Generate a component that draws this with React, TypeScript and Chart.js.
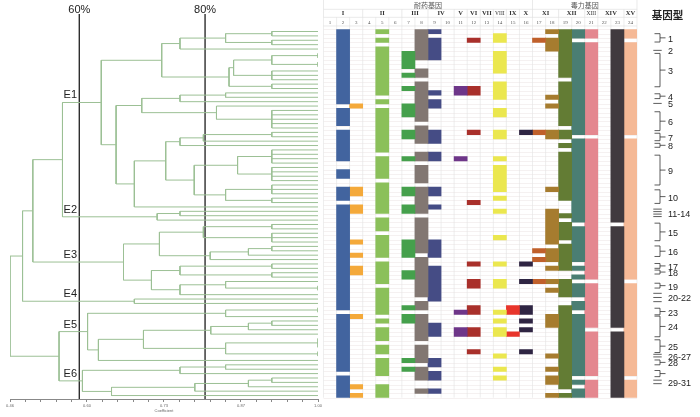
import React, { useEffect, useRef } from 'react';
import { Chart, registerables } from 'chart.js';
Chart.register(...registerables);

// ---------------- dendrogram data (similarity at each merge, leaves = row index) ----------------
type TreeNode = number | TreeNode[];
const LEAF_SIMILARITY = 1.0;
const ROW_COUNT = 84;

const clusterE1: TreeNode = [0.62,
  [0.726,
    [0.758, [0.838, [0.919, 0, 1], [0.919, 2, 3]], 4],
    [0.844, [0.852, [0.919, [1, 5, 6], [1, 7, 8]], [0.919, 9, 10, 11]], [0.919, 12, 13]],
  ],
  [0.646,
    [0.691, [0.758, [0.838, 14, 15], 16], [0.822, 17, [0.919, 18, 19, 20, 21, 22]]],
    [0.678,
      [0.733,
        [0.758, [0.799, [0.919, 23, 24], 25], 26],
        [0.783, [0.859, [0.919, 27, 28, 29, 30], [0.919, 31, 32, 33, 34]], [0.838, [0.919, 35, 36, 37], [0.919, 38, 39]]],
      ],
      40,
    ],
  ],
];
const clusterE2: TreeNode = [0.718, [0.758, 41, 42], 43];
const clusterE3: TreeNode = [0.659,
  [0.722, [0.799, [0.919, 44, 45], [0.919, 46, 47, 48]], [0.811, [0.878, [0.919, 49, 50], 51], 52]],
  [0.708, [0.758, [0.919, 53, 54], [0.919, 55, 56]], [0.758, [0.838, 57, [1, 58, 59]], 60]],
];
const clusterE4: TreeNode = [0.678, 61, 62];
const clusterE5: TreeNode = [0.596,
  [0.838, [1, 63, 64], 65],
  [0.615, [0.694, [0.812, [0.878, [0.919, 66, 67], 68], 69], [0.838, [1, 70, 71, 72], [1, 73, 74]]], 75],
];
const clusterE6: TreeNode = [0.587, [0.758, [0.838, 76, 77], 78], [0.638, [0.784, [0.878, [0.919, 79, 80], 81], 82], 83]];
const dendrogram: TreeNode = [0.46, [0.482, [0.5, [0.552, clusterE1, clusterE2], clusterE3], clusterE4], [0.546, clusterE5, clusterE6]];

const clusterLabels = ['E1', 'E2', 'E3', 'E4', 'E5', 'E6'];
const clusterNodes = [clusterE1, clusterE2, clusterE3, clusterE4, clusterE5, clusterE6];

const cutoffValues = [0.5815, 0.802];
const cutoffLabels = ['60%', '80%'];

const axisMajorTicks = [0.46, 0.595, 0.73, 0.865, 1.0];
const axisMajorLabels = ['0.46', '0.60', '0.73', '0.87', '1.00'];
const axisTitle = 'Coefficient';

// ---------------- gene matrix data ----------------
const columnNumbers = ['1', '2', '3', '4', '5', '6', '7', '8', '9', '10', '11', '12', '13', '14', '15', '16', '17', '18', '19', '20', '21', '22', '23', '24'];
const groupNames = ['I', 'II', 'III', 'IV', 'V', 'VI', 'VII', 'VIII', 'IX', 'X', 'XI', 'XII', 'XIII', 'XIV', 'XV'];
const groupFirstCol = [1, 4, 7, 9, 11, 12, 13, 14, 15, 16, 17, 19, 21, 22, 24];
const groupLastCol = [3, 6, 8, 10, 11, 12, 13, 14, 15, 16, 18, 20, 21, 23, 24];
const categoryNames = ['耐药基因', '毒力基因'];
const categoryFirstCol = [1, 17];
const categoryLastCol = [16, 24];

const runsC1: number[][] = [];
const runsC2 = [[0, 16], [18, 21], [23, 29], [32, 33], [36, 38], [40, 63], [65, 77], [79, 83]];
const runsC3 = [[17, 17], [36, 37], [40, 41], [48, 48], [51, 51], [54, 55], [65, 65], [81, 81], [83, 83]];
const runsC4: number[][] = [];
const runsC5 = [[0, 0], [2, 2], [4, 14], [16, 16], [18, 27], [29, 33], [35, 41], [43, 45], [47, 51], [53, 57], [59, 64], [66, 66], [68, 70], [72, 73], [75, 78], [81, 83]];
const runsC6: number[][] = [];
const runsC7 = [[5, 8], [10, 10], [13, 13], [17, 19], [23, 24], [29, 29], [36, 37], [40, 41], [48, 51], [55, 56], [63, 63], [65, 66], [75, 75], [77, 77]];
const runsC8 = [[0, 6], [9, 10], [12, 20], [22, 25], [28, 29], [31, 34], [36, 41], [43, 50], [52, 60], [62, 63], [65, 70], [72, 75], [77, 79], [82, 82]];
const runsC9 = [[0, 0], [2, 6], [14, 14], [16, 17], [23, 25], [28, 29], [36, 37], [40, 40], [48, 51], [54, 61], [67, 69], [75, 76], [78, 79], [82, 82]];
const runsC10: number[][] = [];
const runsC11 = [[13, 14], [29, 29], [64, 64], [68, 69]];
const runsC12 = [[2, 2], [13, 14], [23, 23], [39, 39], [53, 53], [57, 58], [63, 64], [68, 69], [73, 73]];
const runsC13: number[][] = [];
const runsC14 = [[1, 2], [5, 9], [12, 15], [18, 19], [23, 24], [29, 29], [31, 36], [38, 38], [41, 41], [47, 47], [53, 53], [57, 58], [64, 64], [66, 66], [68, 69], [74, 74], [77, 77], [79, 79]];
const runsC15 = [[63, 64], [69, 69]];
const runsC16 = [[23, 23], [53, 53], [57, 57], [63, 64], [66, 66], [68, 68], [73, 73]];
const runsC17 = [[2, 2], [23, 23], [50, 50], [52, 52], [57, 57]];
const runsC18 = [[0, 0], [2, 4], [15, 15], [17, 17], [23, 24], [36, 36], [41, 48], [50, 52], [54, 54], [57, 57], [59, 59], [65, 67], [74, 74], [77, 77], [79, 80], [83, 83]];
const runsC19 = [[0, 10], [12, 21], [23, 24], [26, 26], [28, 38], [42, 42], [44, 47], [49, 54], [57, 60], [63, 81], [83, 83]];
const runsC20 = [[0, 1], [3, 23], [25, 43], [45, 52], [54, 54], [56, 56], [58, 60], [62, 63], [65, 78], [80, 80], [82, 83]];
const runsC21 = [[0, 1], [3, 23], [25, 56], [58, 67], [69, 78], [80, 83]];
const runsC22: number[][] = [];
const runsC23 = [[0, 43], [45, 67], [69, 83]];
const runsC24 = [[0, 1], [3, 23], [25, 56], [58, 78], [80, 83]];
const geneRuns = [runsC1, runsC2, runsC3, runsC4, runsC5, runsC6, runsC7, runsC8, runsC9, runsC10, runsC11, runsC12,
  runsC13, runsC14, runsC15, runsC16, runsC17, runsC18, runsC19, runsC20, runsC21, runsC22, runsC23, runsC24];

const geneColors = ['#42649f', '#42649f', '#f4a93a', '#8bc05a', '#8bc05a', '#8bc05a', '#45a04c', '#827772', '#454c85', '#454c85',
  '#6e3689', '#a9302b', '#a9302b', '#ebe74f', '#e8352b', '#2f2543', '#c0602b', '#a67c2f', '#637c34', '#4a7e73',
  '#e4878f', '#403a3f', '#403a3f', '#f5b996'];

// ---------------- genotype annotation data (row ranges) ----------------
const genotypeTitle = '基因型';
const genotypeLabels = ['1', '2', '3', '4', '5', '6', '7', '8', '9', '10', '11-14', '15', '16', '17', '18', '19', '20-22', '23', '24', '25', '26-27', '28', '', '29-31'];
const genotypeFrom = [0.5, 4.3, 5, 14.2, 16.4, 18.3, 23.2, 25.5, 28.2, 36.1, 40.5, 43.7, 48.9, 52.9, 54.4, 57.4, 59.7, 63.1, 64.9, 70.3, 73.6, 74.9, 77.3, 79.5];
const genotypeTo = [2.4, 4.3, 12.6, 15.3, 16.4, 22.6, 24.9, 26.4, 35, 39.2, 42.2, 47.7, 51.3, 54, 55.3, 58.5, 61.6, 64.6, 69.6, 73.2, 74.2, 76, 78.7, 80.3];
const genotypeLineCount = [0, 1, 0, 0, 1, 0, 0, 0, 0, 0, 4, 0, 0, 0, 0, 0, 3, 0, 0, 0, 2, 0, 0, 2];

// ---------------- helpers ----------------
type Pt = { x: number; y: number };
type Placed = { s: number; y: number };

function placeTree(node: TreeNode, segs: Pt[][], pos: Map<TreeNode, Placed>): Placed {
  if (typeof node === 'number') return { s: LEAF_SIMILARITY, y: node };
  const sim = node[0] as number;
  const kids = node.slice(1).map((k) => placeTree(k as TreeNode, segs, pos));
  const first = kids[0];
  const last = kids[kids.length - 1];
  segs.push([{ x: first.s, y: first.y }, { x: sim, y: first.y }, { x: sim, y: last.y }, { x: last.s, y: last.y }]);
  for (let i = 1; i < kids.length - 1; i++) {
    segs.push([{ x: kids[i].s, y: kids[i].y }, { x: sim, y: kids[i].y }]);
  }
  const p = { s: sim, y: (first.y + last.y) / 2 };
  pos.set(node, p);
  return p;
}

const SANS = '"Liberation Sans", Arial, sans-serif';
const SERIF = '"Liberation Serif", "DejaVu Serif", serif';
const CJK = '"Noto Sans CJK SC", sans-serif';

// row r sits at pixel 31.5 + 4.386 r ; chart area 12..399
const ROW_PX = 4.386;
const ROW0_PX = 31.5;
const DENDRO_TOP = 12;
const DENDRO_BOTTOM = 399;

function buildDendrogram(canvas: HTMLCanvasElement) {
  const segs: Pt[][] = [];
  const pos = new Map<TreeNode, Placed>();
  placeTree(dendrogram, segs, pos);
  const yMin = (DENDRO_TOP - ROW0_PX) / ROW_PX;
  const yMax = (DENDRO_BOTTOM - ROW0_PX) / ROW_PX;

  const datasets: any[] = segs.map((pts) => ({
    data: pts, showLine: true, borderColor: '#9cc095', borderWidth: 1, pointRadius: 0, fill: false, tension: 0,
  }));
  cutoffValues.forEach((v) => {
    datasets.push({ data: [{ x: v, y: -4 }, { x: v, y: yMax }], showLine: true, borderColor: '#2e2e2e', borderWidth: 1.4, pointRadius: 0, fill: false });
  });

  const tickValues: number[] = [];
  for (let i = 0; i < axisMajorTicks.length; i++) {
    tickValues.push(axisMajorTicks[i]);
    if (i < axisMajorTicks.length - 1) {
      const step = (axisMajorTicks[i + 1] - axisMajorTicks[i]) / 5;
      for (let k = 1; k < 5; k++) tickValues.push(axisMajorTicks[i] + step * k);
    }
  }

  const textPlugin = {
    id: 'dendroText',
    afterDatasetsDraw(chart: any) {
      const { ctx, scales } = chart;
      const xs = scales.x;
      const ys = scales.y;
      ctx.save();
      ctx.fillStyle = '#222';
      ctx.font = `11px ${SANS}`;
      ctx.textAlign = 'center';
      ctx.textBaseline = 'alphabetic';
      cutoffValues.forEach((v, i) => ctx.fillText(cutoffLabels[i], xs.getPixelForValue(v), chart.chartArea.top + 0.8));
      ctx.textAlign = 'left';
      clusterNodes.forEach((n, i) => {
        const p = pos.get(n)!;
        ctx.fillText(clusterLabels[i], xs.getPixelForValue(0.554), ys.getPixelForValue(p.y) - 4);
      });
      ctx.restore();
    },
  };

  return new Chart(canvas, {
    type: 'scatter',
    data: { datasets },
    options: {
      animation: false,
      responsive: false,
      events: [],
      layout: { padding: { left: 10, right: 5, top: DENDRO_TOP, bottom: 0 } },
      plugins: { legend: { display: false }, tooltip: { enabled: false } },
      scales: {
        x: {
          type: 'linear', min: 0.46, max: 1.0, position: 'bottom',
          afterBuildTicks: (axis: any) => { axis.ticks = tickValues.map((v) => ({ value: v })); },
          afterFit: (axis: any) => { axis.height = 417 - DENDRO_BOTTOM; },
          ticks: {
            autoSkip: false, maxRotation: 0, padding: 1, color: '#666', font: { size: 4, family: SANS },
            callback: (value: any) => {
              const idx = axisMajorTicks.findIndex((m) => Math.abs(m - value) < 1e-6);
              return idx >= 0 ? axisMajorLabels[idx] : '';
            },
          },
          grid: { drawOnChartArea: false, drawTicks: true, tickLength: 3, color: '#888' },
          border: { display: true, color: '#888', width: 1 },
          title: { display: true, text: axisTitle, color: '#666', font: { size: 4, family: SANS }, padding: { top: 1, bottom: 4 } },
        },
        y: { type: 'linear', display: false, reverse: true, min: yMin, max: yMax },
      },
    } as any,
    plugins: [textPlugin],
  });
}

function buildMatrix(canvas: HTMLCanvasElement) {
  const datasets = geneRuns.map((runs, ci) => ({
    data: runs.map(([a, b]) => ({ x: columnNumbers[ci], y: [a - 0.5, b + 0.5] })),
    backgroundColor: geneColors[ci],
    borderWidth: 0,
    grouped: false,
    categoryPercentage: 1,
    barPercentage: 1,
  }));

  const gridPlugin = {
    id: 'matrixGrid',
    beforeDatasetsDraw(chart: any) {
      const { ctx, chartArea, scales } = chart;
      const ys = scales.y;
      const xs = scales.x;
      const colW = (chartArea.right - chartArea.left) / columnNumbers.length;
      ctx.save();
      ctx.lineWidth = 0.6;
      ctx.strokeStyle = '#efe8e8';
      for (let r = 0; r <= ROW_COUNT; r++) {
        const y = Math.round(ys.getPixelForValue(r - 0.5)) + 0.5;
        ctx.beginPath(); ctx.moveTo(chartArea.left, y); ctx.lineTo(chartArea.right, y); ctx.stroke();
      }
      ctx.strokeStyle = '#e2e2e2';
      for (let c = 0; c <= columnNumbers.length; c++) {
        const x = xs.getPixelForValue(0) - colW / 2 + c * colW;
        ctx.beginPath(); ctx.moveTo(x, chartArea.top - 12); ctx.lineTo(x, chartArea.bottom); ctx.stroke();
      }
      ctx.restore();
    },
    afterDraw(chart: any) {
      const { ctx, chartArea, scales } = chart;
      const xs = scales.x;
      const ys = scales.y;
      const colW = (chartArea.right - chartArea.left) / columnNumbers.length;
      const top = chartArea.top;
      const colCenter = (c: number) => xs.getPixelForValue(c - 1);
      ctx.save();
      // header lines
      ctx.strokeStyle = '#dcdcdc';
      ctx.lineWidth = 0.6;
      [top - 20, top - 12, top - 3.3].forEach((y) => {
        ctx.beginPath(); ctx.moveTo(chartArea.left, y); ctx.lineTo(chartArea.right, y); ctx.stroke();
      });
      groupFirstCol.forEach((c) => {
        const x = colCenter(c) - colW / 2;
        ctx.beginPath(); ctx.moveTo(x, top - 20); ctx.lineTo(x, top - 12); ctx.stroke();
      });
      ctx.beginPath(); ctx.moveTo(chartArea.right, top - 20); ctx.lineTo(chartArea.right, top - 12); ctx.stroke();
      categoryFirstCol.forEach((c) => {
        const x = colCenter(c) - colW / 2;
        ctx.beginPath(); ctx.moveTo(x, 0); ctx.lineTo(x, top - 20); ctx.stroke();
      });
      ctx.beginPath(); ctx.moveTo(chartArea.right, 0); ctx.lineTo(chartArea.right, top - 20); ctx.stroke();

      // header texts
      ctx.textAlign = 'center';
      ctx.textBaseline = 'middle';
      ctx.fillStyle = '#555';
      ctx.font = `7px ${CJK}`;
      categoryNames.forEach((n, i) => {
        ctx.fillText(n, (colCenter(categoryFirstCol[i]) + colCenter(categoryLastCol[i])) / 2, top - 23.5);
      });
      ctx.fillStyle = '#333';
      groupNames.forEach((n, i) => {
        ctx.font = n.length > 3 ? `5.5px ${SERIF}` : `bold 6.5px ${SERIF}`;
        ctx.fillText(n, (colCenter(groupFirstCol[i]) + colCenter(groupLastCol[i])) / 2, top - 16);
      });
      ctx.fillStyle = '#555';
      ctx.font = `5px ${SERIF}`;
      columnNumbers.forEach((n, i) => ctx.fillText(n, colCenter(i + 1), top - 6.6));

      // genotype annotations
      const R = chartArea.right;
      ctx.fillStyle = '#222';
      ctx.font = `bold 10.5px ${CJK}`;
      ctx.fillText(genotypeTitle, R + 30.5, 15);
      ctx.strokeStyle = '#333';
      ctx.lineWidth = 0.8;
      ctx.font = `9px ${SANS}`;
      ctx.textAlign = 'left';
      genotypeLabels.forEach((lab, i) => {
        const y1 = ys.getPixelForValue(genotypeFrom[i]);
        const y2 = ys.getPixelForValue(genotypeTo[i]);
        const ym = (y1 + y2) / 2;
        const n = genotypeLineCount[i];
        ctx.beginPath();
        if (n === 0) {
          ctx.moveTo(R + 17.5, y1); ctx.lineTo(R + 23, y1); ctx.lineTo(R + 23, y2); ctx.lineTo(R + 17.5, y2);
          ctx.moveTo(R + 23, ym); ctx.lineTo(R + 28.5, ym);
        } else {
          for (let k = 0; k < n; k++) {
            const y = n === 1 ? y1 : y1 + ((y2 - y1) * k) / (n - 1);
            ctx.moveTo(R + 16.3, y); ctx.lineTo(R + 24.7, y);
          }
        }
        ctx.stroke();
        if (lab) ctx.fillText(lab, R + 31, ym + 1.5);
      });
      ctx.restore();
    },
  };

  return new Chart(canvas, {
    type: 'bar',
    data: { labels: columnNumbers, datasets },
    options: {
      animation: false,
      responsive: false,
      events: [],
      layout: { padding: { left: 3.5, right: 63, top: 29.3, bottom: 19.3 } },
      plugins: { legend: { display: false }, tooltip: { enabled: false } },
      scales: {
        x: { type: 'category', display: false, offset: true },
        y: { type: 'linear', display: false, reverse: true, min: -0.5, max: ROW_COUNT - 0.5 },
      },
    } as any,
    plugins: [gridPlugin],
  });
}

export default function App() {
  const leftRef = useRef<HTMLCanvasElement>(null);
  const rightRef = useRef<HTMLCanvasElement>(null);
  useEffect(() => {
    const c1 = buildDendrogram(leftRef.current!);
    const c2 = buildMatrix(rightRef.current!);
    return () => { c1.destroy(); c2.destroy(); };
  }, []);
  return (
    <div style={{ position: 'fixed', left: 0, top: 0, width: 700, height: 417, background: '#fff', overflow: 'hidden' }}>
      <canvas ref={leftRef} width={323} height={417} style={{ position: 'absolute', left: 0, top: 0, width: 323, height: 417 }} />
      <canvas ref={rightRef} width={380} height={417} style={{ position: 'absolute', left: 320, top: 0, width: 380, height: 417 }} />
    </div>
  );
}
